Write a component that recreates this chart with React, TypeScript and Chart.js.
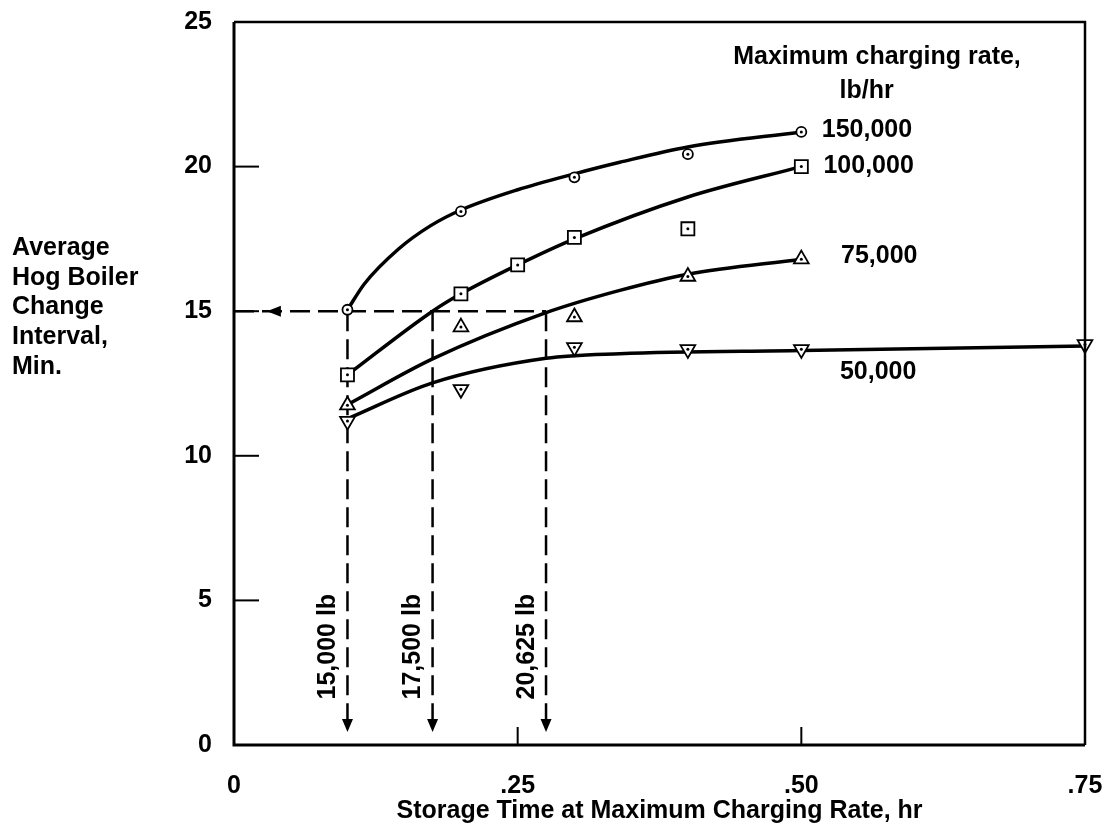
import React, { useEffect, useRef } from 'react';
import { Chart, registerables } from 'chart.js';

Chart.register(...registerables);

// ---- axis ticks ----
const xTickValues = [0, 0.25, 0.5, 0.75];
const xTickLabels = ['0', '.25', '.50', '.75'];
const yTickValues = [0, 5, 10, 15, 20, 25];

// ---- measured points (storage time hr, interval min) ----
const x150 = [0.1, 0.2, 0.3, 0.4, 0.5];
const y150 = [15.05, 18.45, 19.63, 20.43, 21.2];
const x100 = [0.1, 0.2, 0.25, 0.3, 0.4, 0.5];
const y100 = [12.8, 15.6, 16.6, 17.55, 17.85, 20.0];
const x75 = [0.1, 0.2, 0.3, 0.4, 0.5];
const y75 = [11.75, 14.45, 14.8, 16.2, 16.8];
const x50 = [0.1, 0.2, 0.3, 0.4, 0.5, 0.75];
const y50 = [11.2, 12.3, 13.75, 13.68, 13.68, 13.85];

// ---- fitted curves ----
const cx150 = [0.1, 0.115, 0.145, 0.173, 0.2, 0.25, 0.3, 0.34, 0.4, 0.5];
const cy150 = [15.05, 15.95, 17.15, 17.95, 18.5, 19.2, 19.75, 20.15, 20.68, 21.2];
const cx100 = [0.1, 0.175, 0.2, 0.25, 0.3, 0.4, 0.5];
const cy100 = [12.8, 15.0, 15.6, 16.6, 17.5, 18.95, 20.0];
const cx75 = [0.1, 0.175, 0.275, 0.34, 0.4, 0.5];
const cy75 = [11.77, 13.35, 14.95, 15.72, 16.28, 16.8];
const cx50 = [0.1, 0.175, 0.275, 0.34, 0.5, 0.75];
const cy50 = [11.28, 12.52, 13.37, 13.53, 13.64, 13.8];

// ---- read-off construction ----
const targetInterval = 15;
const readX = [0.1, 0.175, 0.275];
const readLabels = ['15,000 lb', '17,500 lb', '20,625 lb'];
const arrowBottomY = 0.45;
const arrowLeftX = 0.029;

// ---- text ----
const rateLabels = ['150,000', '100,000', '75,000', '50,000'];
const legendTitle = ['Maximum charging rate,', 'lb/hr'];
const yTitleLines = ['Average', 'Hog Boiler', 'Change', 'Interval,', 'Min.'];
const xTitle = 'Storage Time at Maximum Charging Rate, hr';

const FONT = "'Liberation Sans', Arial, Helvetica, sans-serif";

const pts = (xs: number[], ys: number[]) => xs.map((x, i) => ({ x, y: ys[i] }));

export default function App() {
  const ref = useRef<HTMLCanvasElement>(null);

  useEffect(() => {
    const canvas = ref.current!;

    const curve = (xs: number[], ys: number[]) => ({
      data: pts(xs, ys),
      showLine: true,
      borderColor: '#000',
      borderWidth: 3.5,
      pointRadius: 0,
      cubicInterpolationMode: 'monotone' as const,
      clip: false as const,
      order: 3,
    });
    const markers = (xs: number[], ys: number[], style: string, r: number, rot = 0) => ({
      data: pts(xs, ys),
      showLine: false,
      pointStyle: style,
      pointRadius: r,
      rotation: rot,
      borderColor: '#000',
      borderWidth: 1.8,
      backgroundColor: '#fff',
      clip: false as const,
      order: 1,
    });
    const dots = (xs: number[], ys: number[]) => ({
      data: pts(xs, ys),
      showLine: false,
      pointStyle: 'circle',
      pointRadius: 1.5,
      borderWidth: 0,
      backgroundColor: '#000',
      clip: false as const,
      order: 0,
    });
    const dashed = (data: { x: number; y: number }[]) => ({
      data,
      showLine: true,
      borderColor: '#000',
      borderWidth: 2.5,
      borderDash: [20, 8],
      pointRadius: 0,
      tension: 0,
      clip: false as const,
      order: 4,
    });

    const datasets: any[] = [
      curve(cx150, cy150),
      curve(cx100, cy100),
      curve(cx75, cy75),
      curve(cx50, cy50),
      markers(x150, y150, 'circle', 5),
      markers(x100, y100, 'rect', 9.2),
      markers(x75, y75, 'triangle', 8.5),
      markers(x50, y50, 'triangle', 8.5, 180),
      dots(x150, y150),
      dots(x100, y100),
      dots(x75, y75),
      dots(x50, y50),
      dashed([{ x: 0, y: targetInterval }, { x: readX[2], y: targetInterval }]),
      ...readX.map((xv) => dashed([{ x: xv, y: targetInterval }, { x: xv, y: arrowBottomY + 0.3 }])),
    ];

    const annot = {
      id: 'annot',
      afterDraw(chart: any) {
        const { ctx, chartArea: ca, scales } = chart;
        const xs = scales.x;
        const ys = scales.y;
        ctx.save();
        ctx.strokeStyle = '#000';
        ctx.fillStyle = '#000';
        // frame
        ctx.lineWidth = 3;
        ctx.beginPath();
        ctx.moveTo(ca.left, ca.top);
        ctx.lineTo(ca.left, ca.bottom);
        ctx.lineTo(ca.right, ca.bottom);
        ctx.stroke();
        ctx.lineWidth = 2.5;
        ctx.beginPath();
        ctx.moveTo(ca.left, ca.top);
        ctx.lineTo(ca.right, ca.top);
        ctx.lineTo(ca.right, ca.bottom);
        ctx.stroke();
        // inward tick marks
        ctx.lineWidth = 2;
        yTickValues.slice(1, -1).forEach((v) => {
          const py = ys.getPixelForValue(v);
          ctx.beginPath();
          ctx.moveTo(ca.left, py);
          ctx.lineTo(ca.left + 25, py);
          ctx.stroke();
        });
        xTickValues.slice(1, -1).forEach((v) => {
          const px = xs.getPixelForValue(v);
          ctx.beginPath();
          ctx.moveTo(px, ca.bottom);
          ctx.lineTo(px, ca.bottom - 18);
          ctx.stroke();
        });
        // arrowheads
        readX.forEach((v) => {
          const px = xs.getPixelForValue(v);
          const py = ys.getPixelForValue(arrowBottomY);
          ctx.beginPath();
          ctx.moveTo(px, py);
          ctx.lineTo(px - 5.5, py - 13);
          ctx.lineTo(px + 5.5, py - 13);
          ctx.closePath();
          ctx.fill();
        });
        {
          const px = xs.getPixelForValue(arrowLeftX);
          const py = ys.getPixelForValue(targetInterval);
          ctx.beginPath();
          ctx.moveTo(px, py);
          ctx.lineTo(px + 14, py - 5.5);
          ctx.lineTo(px + 14, py + 5.5);
          ctx.closePath();
          ctx.fill();
        }
        // rotated read-off labels
        ctx.font = `bold 25px ${FONT}`;
        ctx.textAlign = 'center';
        ctx.textBaseline = 'middle';
        readX.forEach((v, i) => {
          const px = xs.getPixelForValue(v) - 19;
          const py = ys.getPixelForValue(3.4);
          ctx.save();
          ctx.translate(px, py);
          ctx.rotate(-Math.PI / 2);
          ctx.fillText(readLabels[i], 0, 0);
          ctx.restore();
        });
        // legend header
        ctx.textAlign = 'center';
        ctx.fillText(legendTitle[0], xs.getPixelForValue(0.5667), ys.getPixelForValue(23.8));
        ctx.fillText(legendTitle[1], xs.getPixelForValue(0.5575), ys.getPixelForValue(22.6));
        // series labels
        ctx.textAlign = 'left';
        const lab = [
          { x: 0.518, y: 21.25 },
          { x: 0.5195, y: 20.0 },
          { x: 0.535, y: 16.9 },
          { x: 0.534, y: 12.88 },
        ];
        rateLabels.forEach((t, i) => {
          ctx.fillText(t, xs.getPixelForValue(lab[i].x), ys.getPixelForValue(lab[i].y));
        });
        // y title
        ctx.textAlign = 'left';
        yTitleLines.forEach((t, i) => {
          ctx.fillText(t, 12, 248 + i * 29.7);
        });
        ctx.restore();
      },
    };

    const chart = new Chart(canvas, {
      type: 'scatter',
      data: { datasets },
      plugins: [annot],
      options: {
        animation: false,
        responsive: false,
        devicePixelRatio: 1,
        layout: { padding: { top: 22, right: 20, left: 0, bottom: 0 } },
        plugins: { legend: { display: false }, tooltip: { enabled: false } },
        scales: {
          x: {
            type: 'linear',
            min: 0,
            max: 0.75,
            afterFit: (s: any) => {
              s.height = 90;
              s.paddingLeft = 0;
              s.paddingRight = 0;
            },
            afterBuildTicks: (s: any) => {
              s.ticks = xTickValues.map((v) => ({ value: v }));
            },
            ticks: {
              padding: 26,
              color: '#000',
              font: { family: FONT, size: 25, weight: 'bold' },
              callback: (_v: any, i: number) => xTickLabels[i],
            },
            grid: { display: false, drawTicks: false },
            border: { display: false },
            title: {
              display: true,
              text: xTitle,
              color: '#000',
              font: { family: FONT, size: 25, weight: 'bold' },
              padding: { top: 0, bottom: 9 },
            },
          },
          y: {
            type: 'linear',
            min: 0,
            max: 25,
            afterFit: (s: any) => {
              s.width = 234;
              s.paddingTop = 0;
              s.paddingBottom = 0;
            },
            afterBuildTicks: (s: any) => {
              s.ticks = yTickValues.map((v) => ({ value: v }));
            },
            ticks: {
              padding: 22,
              color: '#000',
              font: { family: FONT, size: 25, weight: 'bold' },
            },
            grid: { display: false, drawTicks: false },
            border: { display: false },
          },
        },
      },
    } as any);

    return () => chart.destroy();
  }, []);

  return (
    <div style={{ position: 'absolute', left: 0, top: 0, width: 1105, height: 835, background: '#fff' }}>
      <canvas ref={ref} width={1105} height={835} style={{ width: 1105, height: 835, display: 'block' }} />
    </div>
  );
}
